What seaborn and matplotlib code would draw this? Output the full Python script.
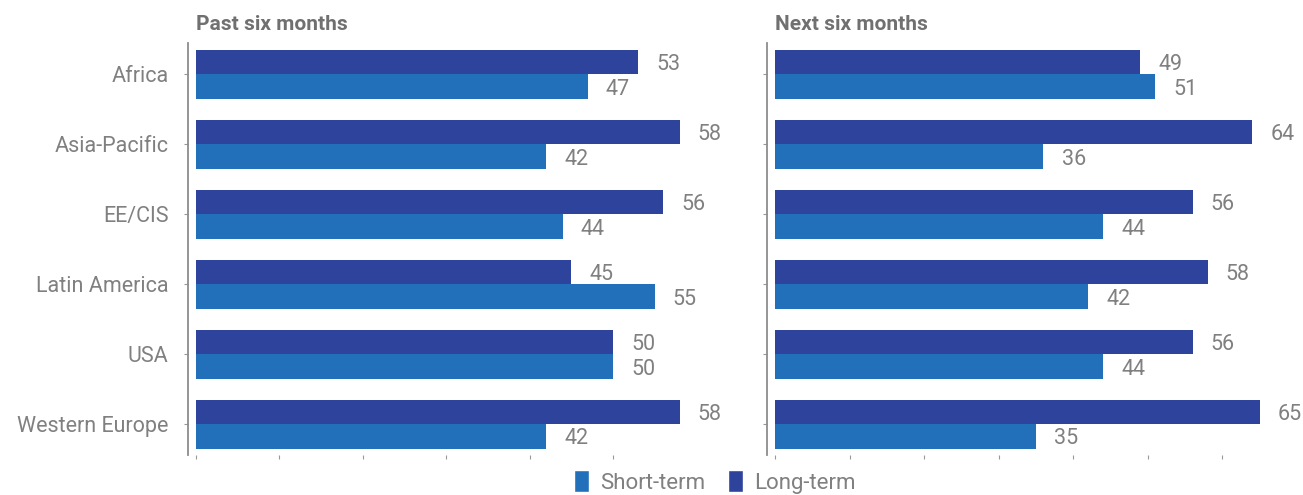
import pandas as pd
import matplotlib
matplotlib.use("Agg")
import matplotlib.pyplot as plt
import seaborn as sns
from matplotlib.patches import Patch

# Data
regions = ["Africa", "Asia-Pacific", "EE/CIS", "Latin America", "USA", "Western Europe"]
past_long = [53, 58, 56, 45, 50, 58]
past_short = [47, 42, 44, 55, 50, 42]
next_long = [49, 64, 56, 58, 56, 65]
next_short = [51, 36, 44, 42, 44, 35]
panel_titles = ["Past six months", "Next six months"]

dark = "#2e439b"
light = "#2270ba"
grey = "#808080"

sns.set_theme(style="white")
plt.rcParams["font.family"] = ["Roboto", "DejaVu Sans"]


def long_form(long_vals, short_vals):
    rows = []
    for r, lv, sv in zip(regions, long_vals, short_vals):
        rows.append({"region": r, "term": "Long-term", "value": lv})
        rows.append({"region": r, "term": "Short-term", "value": sv})
    return pd.DataFrame(rows)


fig = plt.figure(figsize=(13.03, 4.95), dpi=100)
W, H = 1303, 495
ax1 = fig.add_axes([188 / W, 40 / H, 525 / W, 412 / H])
ax2 = fig.add_axes([767 / W, 40 / H, 530 / W, 412 / H])

panels = [
    (ax1, long_form(past_long, past_short), (-0.96, 62.0), range(0, 51, 10)),
    (ax2, long_form(next_long, next_short), (-1.07, 70.0), range(0, 61, 10)),
]

for i, (ax, df, xlim, xt) in enumerate(panels):
    sns.barplot(data=df, y="region", x="value", hue="term",
                hue_order=["Long-term", "Short-term"],
                palette=[dark, light], orient="h", width=0.7,
                saturation=1, linewidth=0, ax=ax, legend=False)
    for cont in ax.containers:
        labels = ax.bar_label(cont, padding=13, color=grey, fontsize=15.5)
        for t in labels:
            t.set_va("center_baseline")
    ax.set_xlim(*xlim)
    ax.set_ylim(5.44, -0.45)
    ax.set_xticks(list(xt))
    ax.set_xticklabels([])
    ax.set_xlabel("")
    ax.set_ylabel("")
    for s in ["top", "right", "bottom"]:
        ax.spines[s].set_visible(False)
    ax.spines["left"].set_color("#8c8c8c")
    ax.spines["left"].set_linewidth(1.3)
    ax.tick_params(axis="x", bottom=True, length=3, width=0.8, color="#999999")
    ax.tick_params(axis="y", left=True, length=3, width=0.8, color="#999999",
                   labelsize=15.5, labelcolor=grey, pad=11)
    if i == 1:
        ax.set_yticklabels([])
    ax.text(0, -0.72, panel_titles[i], fontsize=15, fontweight="bold",
            color="#707070", ha="left", va="center")

handles = [Patch(facecolor=light, label="Short-term"),
           Patch(facecolor=dark, label="Long-term")]
fig.legend(handles=handles, loc="center", bbox_to_anchor=(715 / W, 1 - 482 / H),
           ncol=2, frameon=False, fontsize=16, labelcolor=grey,
           handlelength=0.7, handleheight=1.1, handletextpad=0.5, columnspacing=1.0)

fig.savefig("out.png", dpi=100)
